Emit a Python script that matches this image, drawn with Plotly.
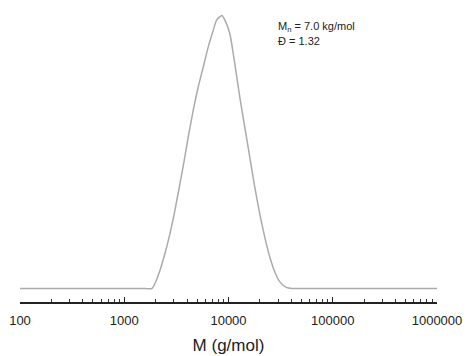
import plotly.graph_objects as go

# Molar mass (g/mol) and normalized detector signal
molar_mass = [100, 300, 1000, 1500, 1845, 1972, 2203, 2460, 2748, 3069, 3428, 3768, 4115,
              4596, 5133, 5733, 6404, 7153, 7707, 8650, 9210, 10280, 11470, 12810, 14300,
              15970, 17830, 19910, 22230, 24820, 27710, 30940, 35820, 40650, 50000,
              100000, 300000, 1000000]
signal = [0.0, 0.0, 0.0, 0.0, 0.0, 0.019, 0.067, 0.129, 0.202, 0.288, 0.386, 0.471, 0.556,
          0.654, 0.739, 0.812, 0.886, 0.947, 0.984, 1.000, 0.984, 0.935, 0.825, 0.703, 0.593,
          0.483, 0.373, 0.275, 0.190, 0.117, 0.062, 0.025, 0.004, 0.0, 0.0,
          0.0, 0.0, 0.0]

tick_values = [100, 1000, 10000, 100000, 1000000]
tick_labels = ["100", "1000", "10000", "100000", "1000000"]

annotation_lines = ["M<sub>n</sub> = 7.0 kg/mol", "Đ = 1.32"]

FONT = "Liberation Sans, Arial, Helvetica, sans-serif"

fig = go.Figure()
fig.add_trace(go.Scatter(
    x=molar_mass, y=signal, mode="lines",
    line=dict(color="#ababab", width=1.5, shape="spline", smoothing=0.6),
    showlegend=False, hoverinfo="skip",
))

fig.add_annotation(x=4.456, y=0.958, xref="x", yref="y", text=annotation_lines[0],
                   showarrow=False, xanchor="left", yanchor="middle",
                   font=dict(family=FONT, size=11, color="#222222"))
fig.add_annotation(x=4.456, y=0.907, xref="x", yref="y", text=annotation_lines[1],
                   showarrow=False, xanchor="left", yanchor="middle",
                   font=dict(family=FONT, size=11, color="#222222"))

fig.update_layout(
    width=468, height=356,
    margin=dict(l=20, r=31, t=10, b=54),
    paper_bgcolor="white", plot_bgcolor="white",
    font=dict(family=FONT, color="#222222"),
    xaxis=dict(
        type="log", range=[2, 6], automargin=False,
        tickmode="array", tickvals=tick_values, ticktext=tick_labels,
        ticks="inside", ticklen=5, tickwidth=1.2, tickcolor="#222222",
        minor=dict(ticks="inside", ticklen=3, tickwidth=1, tickcolor="#333333",
                   dtick="D1", showgrid=False),
        showline=True, linecolor="#222222", linewidth=1.5,
        showgrid=False, zeroline=False,
        tickfont=dict(family=FONT, size=13, color="#222222"),
        ticklabelstandoff=6,
        title=dict(text="M (g/mol)", font=dict(family=FONT, size=17, color="#222222"),
                   standoff=12),
    ),
    yaxis=dict(visible=False, range=[-0.0495, 1.020], showgrid=False, zeroline=False,
               automargin=False),
)

fig.write_html(
    "out.html",
    config={"displayModeBar": False},
    post_script="document.body.style.margin='0';document.body.style.padding='0';"
                "document.body.style.overflow='hidden';",
)
